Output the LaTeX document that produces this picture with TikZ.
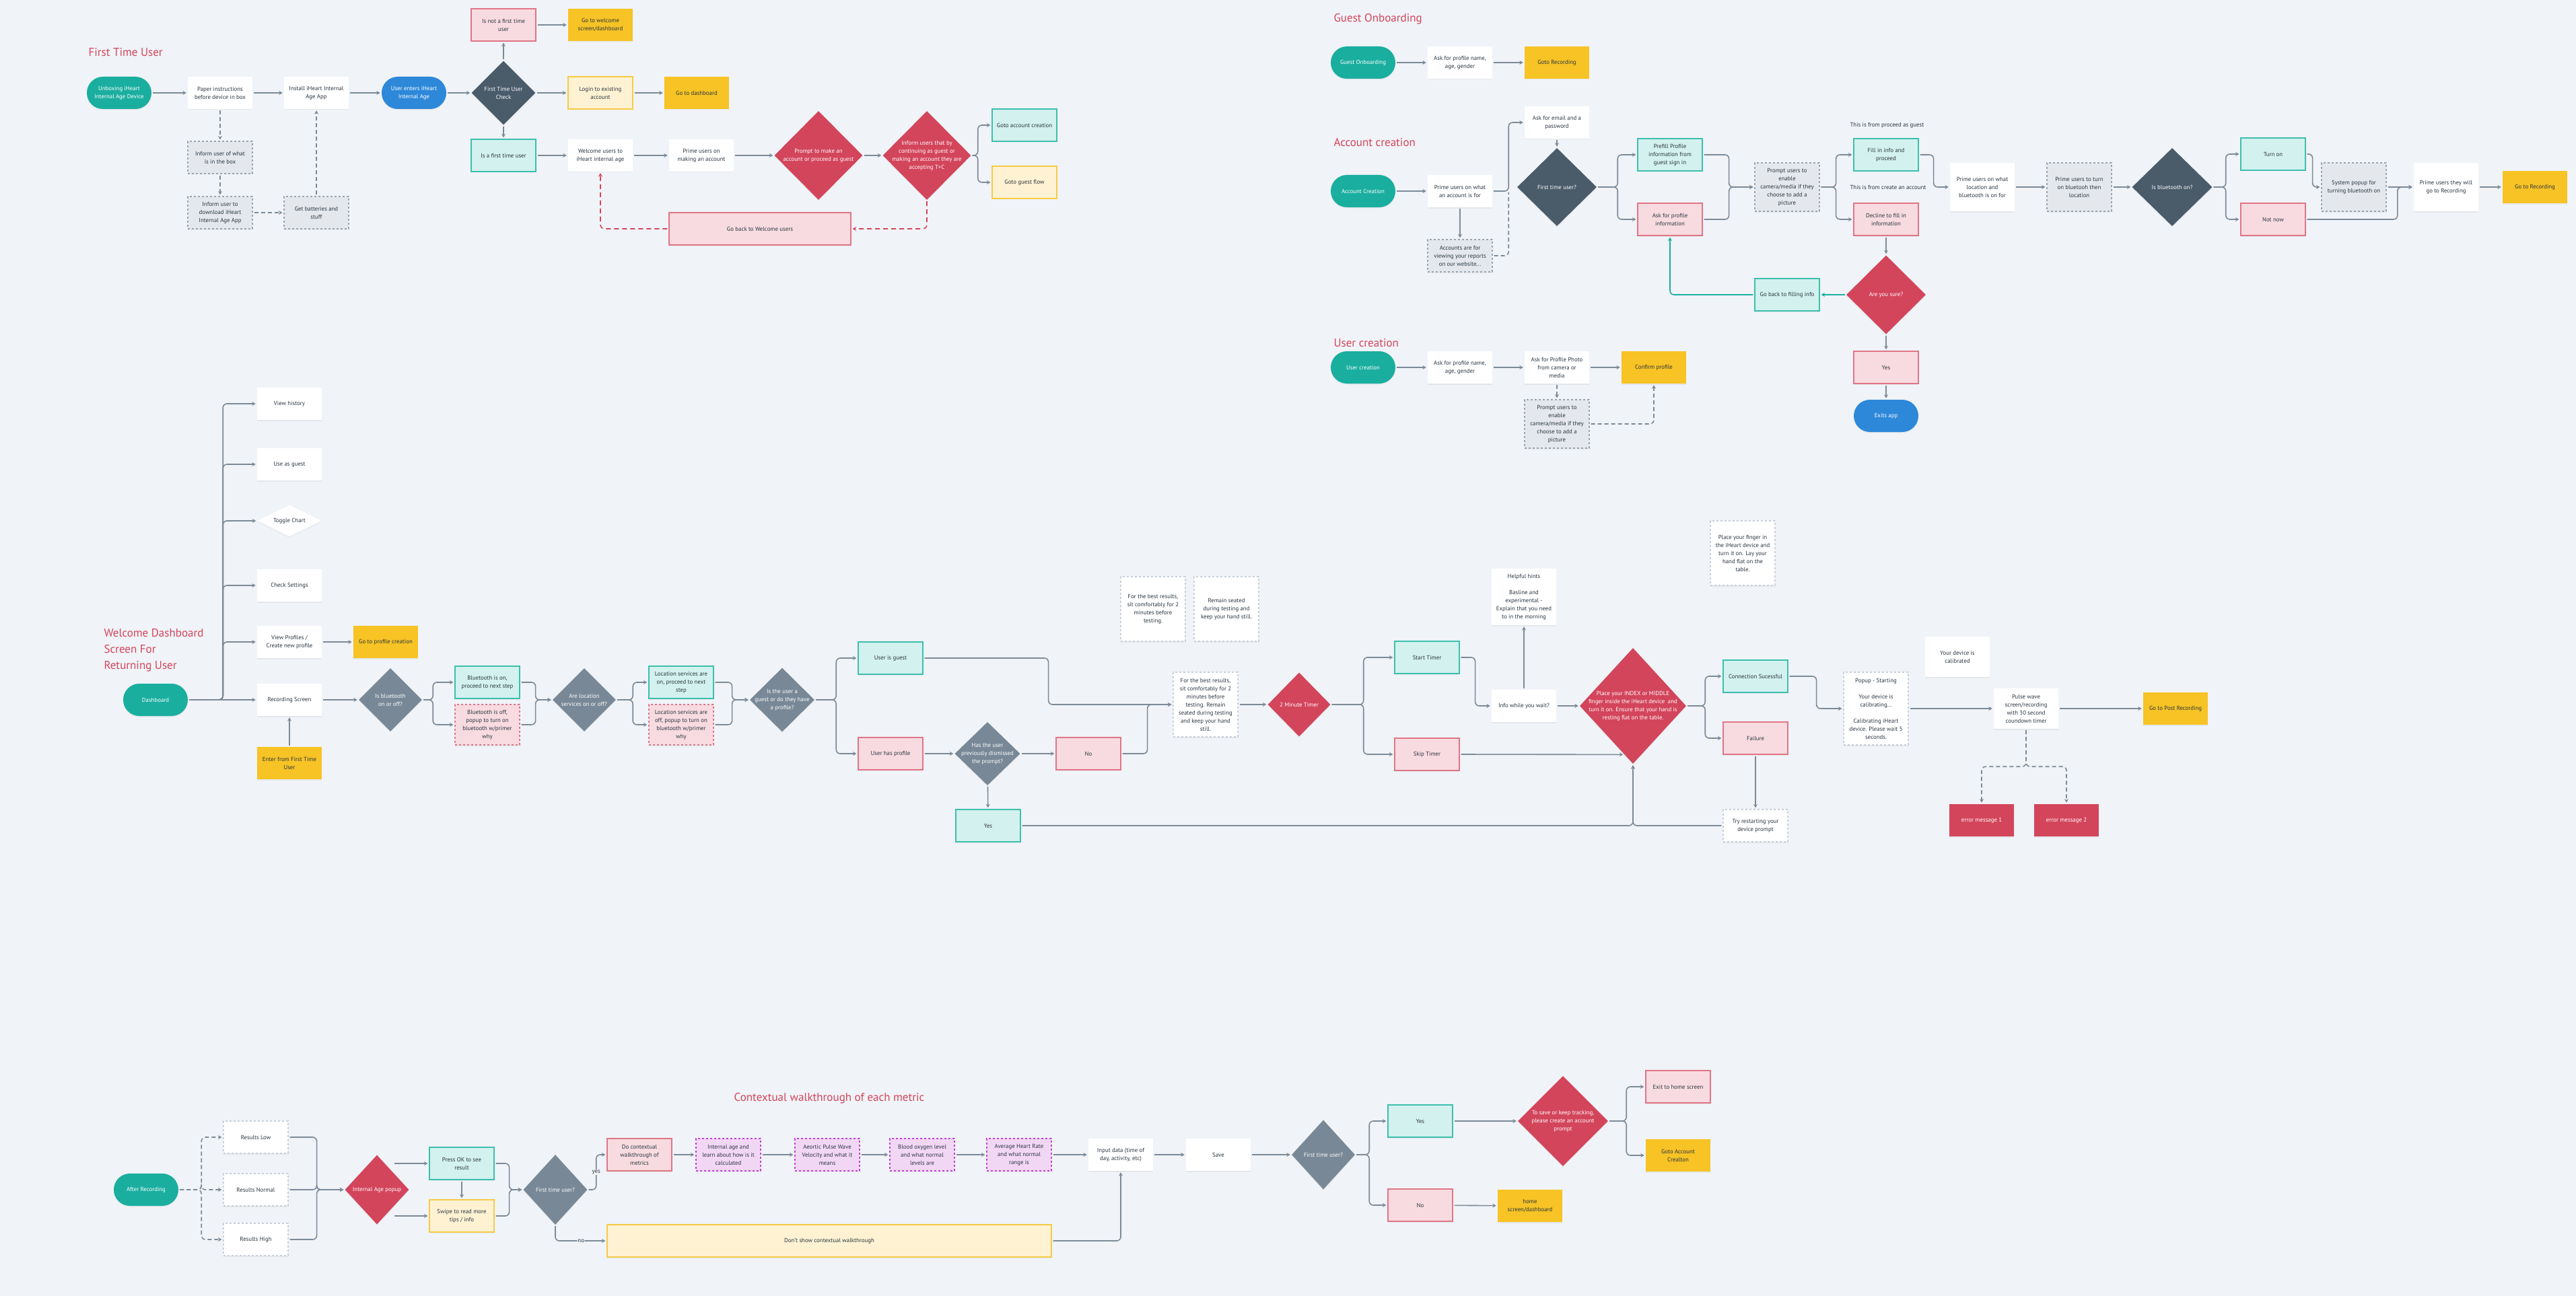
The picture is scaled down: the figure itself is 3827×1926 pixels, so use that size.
\documentclass[tikz,border=0pt]{standalone}
\usepackage{fontspec}
\setmainfont{PT Sans}
\usepackage{tikz}
\usetikzlibrary{arrows.meta,calc,shapes,shadows}

\definecolor{clrbg}{HTML}{F0F3F7}
\definecolor{clrink}{HTML}{2A3540}
\definecolor{clrwire}{HTML}{7B8A98}
\definecolor{clrteal}{HTML}{1AAE9F}
\definecolor{clrtealpale}{HTML}{D3F1EE}
\definecolor{clrtealline}{HTML}{3CBFAF}
\definecolor{clrblue}{HTML}{2D88D9}
\definecolor{clrslate}{HTML}{4A5B6A}
\definecolor{clrsteel}{HTML}{788896}
\definecolor{clrrose}{HTML}{D3455B}
\definecolor{clrpinkpale}{HTML}{F8DBE0}
\definecolor{clrpinkline}{HTML}{E07587}
\definecolor{clrsun}{HTML}{F7C325}
\definecolor{clrcream}{HTML}{FEF2D3}
\definecolor{clrcreamline}{HTML}{F6CB45}
\definecolor{clrgrey}{HTML}{E4E8EC}
\definecolor{clrgreyline}{HTML}{9AA5B1}
\definecolor{clrnote}{HTML}{C7D0DA}
\definecolor{clrlilac}{HTML}{F2D7F5}
\definecolor{clrlilacline}{HTML}{C43FD8}

\tikzset{
  txt/.style={font=\fontsize{8.8}{12}\selectfont, text=clrink, align=center},
  box/.style={txt, rectangle, fill=white, minimum width=96pt, minimum height=48pt, inner sep=2pt,
    drop shadow={opacity=0.10, shadow xshift=0pt, shadow yshift=-1.5pt}},
  tealbox/.style={box, fill=clrtealpale, draw=clrtealline, line width=1.2pt},
  pinkbox/.style={box, fill=clrpinkpale, draw=clrpinkline, line width=1.2pt},
  pinkdash/.style={pinkbox, dashed},
  sunbox/.style={box, fill=clrsun},
  creambox/.style={box, fill=clrcream, draw=clrcreamline, line width=1.2pt},
  greybox/.style={box, fill=clrgrey, draw=clrgreyline, dashed, line width=1.1pt},
  notebox/.style={box, draw=clrnote, dashed, line width=1.1pt},
  lilacbox/.style={box, fill=clrlilac, draw=clrlilacline, dashed, line width=1.2pt},
  alertbox/.style={box, fill=clrrose, text=white},
  pill/.style={box, rounded corners=24pt, fill=clrteal, text=white},
  bluepill/.style={pill, fill=clrblue},
  dia/.style={shape=diamond, inner sep=0pt, drop shadow={opacity=0.10, shadow xshift=0pt, shadow yshift=-1.5pt}},
  slatedia/.style={dia, fill=clrslate},
  steeldia/.style={dia, fill=clrsteel},
  rosedia/.style={dia, fill=clrrose},
  whitedia/.style={dia, fill=white},
  ontext/.style={txt, text=white},
  darktext/.style={txt},
  title/.style={font=\fontsize{17}{24}\selectfont, text=clrrose, align=left},
  link/.style={color=clrwire, line width=1.6pt, rounded corners=6pt, -{Stealth[length=5.5pt,width=6pt]}, shorten >=2pt, shorten <=2pt},
  dlink/.style={link, dash pattern=on 6pt off 4pt},
  backlink/.style={link, color=clrrose, dash pattern=on 7pt off 5pt},
  fixlink/.style={link, color=clrteal},
  tag/.style={txt, fill=clrbg, inner sep=1pt}
}

\begin{document}
\begin{tikzpicture}[x=1pt, y=-1pt]

    \fill[clrbg] (0,0) rectangle (3827,1926);
    \useasboundingbox (0,0) rectangle (3827,1926);

    % first time user
    \node[title, anchor=west] (fttitle) at (128,78) {First Time User};
    \node[pill] (unbox) at (177,138) {Unboxing iHeart\\Internal Age Device};
    \node[box] (paper) at (327,138) {Paper instructions\\before device in box};
    \node[box] (install) at (470,138) {Install iHeart Internal\\Age App};
    \node[bluepill] (enters) at (615,138) {User enters iHeart\\Internal Age};
    \node[slatedia, minimum width=95pt, minimum height=95pt, label={[ontext]center:{First Time User\\Check}}] (chk) at (748,138) {};
    \node[pinkbox] (notfirst) at (748,37) {Is not a first time\\user};
    \node[sunbox] (welcomego) at (892,37) {Go to welcome\\screen/dashboard};
    \node[creambox] (login) at (892,138) {Login to existing\\account};
    \node[sunbox] (dash) at (1035,138) {Go to dashboard};
    \node[tealbox] (isfirst) at (748,231) {Is a first time user};
    \node[box] (welcome) at (892,231) {Welcome users to\\iHeart internal age};
    \node[box] (primeacc) at (1042,231) {Prime users on\\making an account};
    \node[rosedia, minimum width=131pt, minimum height=132pt, label={[ontext]center:{Prompt to make an\\account or proceed as guest}}] (propose) at (1216,231) {};
    \node[rosedia, minimum width=131pt, minimum height=132pt, label={[ontext]center:{Inform users that by\\continuing as guest or\\making an account they are\\accepting T+C}}] (tnc) at (1377,231) {};
    \node[tealbox] (goacc) at (1522,186) {Goto account creation};
    \node[creambox] (goguest) at (1522,271) {Goto guest flow};
    \node[pinkbox, minimum width=270pt] (back) at (1129,340) {Go back to Welcome users};
    \node[greybox] (inbox) at (327,234) {Inform user of what\\is in the box};
    \node[greybox] (download) at (327,316) {Inform user to\\download iHeart\\Internal Age App};
    \node[greybox] (batt) at (470,316) {Get batteries and\\stuff};

    \draw[link] (unbox) -- (paper);
    \draw[link] (paper) -- (install);
    \draw[link] (install) -- (enters);
    \draw[link] (enters) -- (chk);
    \draw[link] (chk) -- (login);
    \draw[link] (login) -- (dash);
    \draw[link] (chk) -- (notfirst);
    \draw[link] (notfirst) -- (welcomego);
    \draw[link] (chk) -- (isfirst);
    \draw[link] (isfirst) -- (welcome);
    \draw[link] (welcome) -- (primeacc);
    \draw[link] (primeacc) -- (propose);
    \draw[link] (propose) -- (tnc);
    \draw[link] (tnc.east) -- ++(10,0) |- (goacc.west);
    \draw[link] (tnc.east) -- ++(10,0) |- (goguest.west);
    \draw[backlink] (tnc.south) |- (back.east);
    \draw[backlink] (back.west) -| (welcome.south);
    \draw[dlink] (paper) -- (inbox);
    \draw[dlink] (inbox) -- (download);
    \draw[dlink] (download) -- (batt);
    \draw[dlink] (batt) -- (install);

    % guest onboarding
    \node[title, anchor=west] (guesttitle) at (1978,28) {Guest Onboarding};
    \node[pill] (guest) at (2025,93) {Guest Onboarding};
    \node[box] (gask) at (2169,93) {Ask for profile name,\\age, gender};
    \node[sunbox] (grec) at (2313,93) {Goto Recording};
    \draw[link] (guest) -- (gask);
    \draw[link] (gask) -- (grec);

    % account creation
    \node[title, anchor=west] (acctitle) at (1978,212) {Account creation};
    \node[pill] (acc) at (2025,284) {Account Creation};
    \node[box] (accprime) at (2169,284) {Prime users on what\\an account is for};
    \node[greybox] (accweb) at (2169,380) {Accounts are for\\viewing your reports\\on our website...};
    \node[box] (email) at (2313,182) {Ask for email and a\\password};
    \node[slatedia, minimum width=118pt, minimum height=116pt, label={[ontext]center:First time user?}] (accfirst) at (2313,278) {};
    \node[tealbox] (prefill) at (2481,230) {Prefill Profile\\information from\\guest sign in};
    \node[pinkbox] (askprof) at (2481,326) {Ask for profile\\information};
    \node[greybox, minimum height=72pt] (camera) at (2655,278) {Prompt users to\\enable\\camera/media if they\\choose to add a\\picture};
    \node[txt, anchor=west] (fromguest) at (2745,186) {This is from proceed as guest};
    \node[txt, anchor=west] (fromcreate) at (2745,278) {This is from create an account};
    \node[tealbox] (fillin) at (2802,230) {Fill in info and\\proceed};
    \node[pinkbox] (decline) at (2802,326) {Decline to fill in\\information};
    \node[box, minimum height=72pt] (locprime) at (2945,278) {Prime users on what\\location and\\bluetooth is on for};
    \node[greybox, minimum height=72pt] (btprime) at (3089,278) {Prime users to turn\\on bluetooh then\\location};
    \node[slatedia, minimum width=119pt, minimum height=116pt, label={[ontext]center:Is bluetooth on?}] (btq) at (3227,278) {};
    \node[tealbox] (turnon) at (3377,229) {Turn on};
    \node[pinkbox] (notnow) at (3377,326) {Not now};
    \node[greybox, minimum height=72pt] (popup) at (3497,278) {System popup for\\turning bluetooth on};
    \node[box, minimum height=72pt] (primerec) at (3634,278) {Prime users they will\\go to Recording};
    \node[sunbox] (gorec) at (3766,278) {Go to Recording};
    \node[rosedia, minimum width=118pt, minimum height=117pt, label={[ontext]center:Are you sure?}] (sure) at (2802,438) {};
    \node[tealbox] (goback) at (2655,438) {Go back to filling info};
    \node[pinkbox] (yes) at (2802,546) {Yes};
    \node[bluepill] (exits) at (2802,618) {Exits app};

    \draw[link] (acc) -- (accprime);
    \draw[link] (accprime.east) -- ++(24,0) |- (email.west);
    \draw[link] (accprime) -- (accweb);
    \draw[dlink, -] (accweb.east) -| ($(accprime.east)+(24,0)$);
    \draw[link] (email) -- (accfirst);
    \draw[link] (accfirst.east) -- ++(31,0) |- (prefill.west);
    \draw[link] (accfirst.east) -- ++(31,0) |- (askprof.west);
    \draw[link] (prefill.east) -- ++(39,0) |- (camera.west);
    \draw[link] (askprof.east) -- ++(39,0) |- (camera.west);
    \draw[link] (camera.east) -- ++(24,0) |- (fillin.west);
    \draw[link] (camera.east) -- ++(24,0) |- (decline.west);
    \draw[link] (fillin.east) -- ++(22,0) |- (locprime.west);
    \draw[link] (locprime) -- (btprime);
    \draw[link] (btprime) -- (btq);
    \draw[link] (btq.east) -- ++(20,0) |- (turnon.west);
    \draw[link] (btq.east) -- ++(20,0) |- (notnow.west);
    \draw[link] (turnon.east) -- ++(10,0) |- (popup.west);
    \draw[link] (popup) -- (primerec);
    \draw[link] (notnow.east) -| ($(primerec.west)+(-24,0)$) -- (primerec.west);
    \draw[link] (primerec) -- (gorec);
    \draw[link] (decline) -- (sure);
    \draw[link] (sure) -- (yes);
    \draw[link] (yes) -- (exits);
    \draw[fixlink] (sure) -- (goback);
    \draw[fixlink] (goback.west) -| (askprof.south);

    % user creation
    \node[title, anchor=west] (usertitle) at (1978,510) {User creation};
    \node[pill] (ucreate) at (2025,546) {User creation};
    \node[box] (uask) at (2169,546) {Ask for profile name,\\age, gender};
    \node[box] (uphoto) at (2313,546) {Ask for Profile Photo\\from camera or\\media};
    \node[sunbox] (uconfirm) at (2457,546) {Confirm profile};
    \node[greybox, minimum height=72pt] (ucamera) at (2313,630) {Prompt users to\\enable\\camera/media if they\\choose to add a\\picture};
    \draw[link] (ucreate) -- (uask);
    \draw[link] (uask) -- (uphoto);
    \draw[link] (uphoto) -- (uconfirm);
    \draw[dlink] (uphoto) -- (ucamera);
    \draw[dlink] (ucamera.east) -| (uconfirm.south);

    % welcome dashboard
    \node[title, anchor=west] (dashtitle) at (151,966) {Welcome Dashboard\\Screen For\\Returning User};
    \node[pill] (board) at (231,1040) {Dashboard};
    \node[box] (history) at (430,600) {View history};
    \node[box] (asguest) at (430,690) {Use as guest};
    \node[whitedia, minimum width=95pt, minimum height=47pt, label={[darktext]center:Toggle Chart}] (toggle) at (430,774) {};
    \node[box] (settings) at (430,870) {Check Settings};
    \node[box] (profiles) at (430,954) {View Profiles /\\Create new profile};
    \node[sunbox] (profcreate) at (573,954) {Go to profile creation};
    \node[box] (recscreen) at (430,1040) {Recording Screen};
    \node[sunbox] (fromfirst) at (430,1134) {Enter from First Time\\User};
    \node[steeldia, minimum width=94pt, minimum height=94pt, label={[ontext]center:{Is bluetooth\\on or off?}}] (btonoff) at (580,1040) {};
    \node[tealbox] (bton) at (724,1014) {Bluetooth is on,\\proceed to next step};
    \node[pinkdash, minimum height=60pt] (btoff) at (724,1077) {Bluetooth is off,\\popup to turn on\\bluetooth w/primer\\why};
    \node[steeldia, minimum width=94pt, minimum height=94pt, label={[ontext]center:{Are location\\services on or off?}}] (locq) at (868,1040) {};
    \node[tealbox] (locon) at (1012,1014) {Location services are\\on, proceed to next\\step};
    \node[pinkdash, minimum height=60pt] (locoff) at (1012,1077) {Location services are\\off, popup to turn on\\bluetooth w/primer\\why};
    \node[steeldia, minimum width=96pt, minimum height=95pt, label={[ontext]center:{Is the user a\\guest or do they have\\a profile?}}] (guestq) at (1162,1040) {};
    \node[tealbox] (isguest) at (1323,978) {User is guest};
    \node[pinkbox] (hasprof) at (1323,1120) {User has profile};
    \node[steeldia, minimum width=97pt, minimum height=94pt, label={[ontext]center:{Has the user\\previously dismissed\\the prompt?}}] (dismissed) at (1467,1120) {};
    \node[pinkbox] (no) at (1617,1120) {No};
    \node[tealbox] (yes2) at (1468,1227) {Yes};
    \node[notebox, minimum height=96pt] (tipsit) at (1713,905) {For the best results,\\sit comfortably for 2\\minutes before\\testing.};
    \node[notebox, minimum height=96pt] (tipseat) at (1822,905) {Remain seated\\during testing and\\keep your hand still.};
    \node[notebox, minimum height=96pt] (tipboth) at (1791,1047) {For the best results,\\sit comfortably for 2\\minutes before\\testing. Remain\\seated during testing\\and keep your hand\\still.};
    \node[rosedia, minimum width=93pt, minimum height=95pt, label={[ontext]center:2 Minute Timer}] (timer) at (1930,1047) {};
    \node[tealbox] (start) at (2120,977) {Start Timer};
    \node[pinkbox] (skip) at (2120,1121) {Skip Timer};
    \node[box] (wait) at (2264,1049) {Info while you wait?};
    \node[box, minimum height=84pt] (hints) at (2264,887) {Helpful hints\\[12pt]Basline and\\experimental -\\Explain that you need\\to in the morning};
    \node[rosedia, minimum width=158pt, minimum height=172pt, label={[ontext]center:{Place your INDEX or MIDDLE\\finger inside the iHeart device \ and\\turn it on. Ensure that your hand is\\resting flat on the table.}}] (finger) at (2426,1049) {};
    \node[notebox, minimum height=96pt] (fingernote) at (2589,822) {Place your finger in\\the iHeart device and\\turn it on. Lay your\\hand flat on the\\table.};
    \node[tealbox] (connok) at (2608,1005) {Connection Sucessful};
    \node[pinkbox] (fail) at (2608,1097) {Failure};
    \node[notebox] (restart) at (2608,1227) {Try restarting your\\device prompt};
    \node[notebox, minimum height=108pt] (calib) at (2787,1053) {Popup - Starting\\[12pt]Your device is\\calibrating...\\[12pt]Calibrating iHeart\\device. Please wait 5\\seconds.};
    \node[box, minimum height=60pt] (calibrated) at (2908,976) {Your device is\\calibrated};
    \node[box, minimum height=60pt] (pulse) at (3010,1053) {Pulse wave\\screen/recording\\with 30 second\\coundown timer};
    \node[sunbox] (postrec) at (3232,1053) {Go to Post Recording};
    \node[alertbox] (err1) at (2944,1219) {error message 1};
    \node[alertbox] (err2) at (3070,1219) {error message 2};

    \draw[link] (board) -- (recscreen);
    \foreach \n in {history,asguest,toggle,settings,profiles}
        \draw[link] (board.east) -- ++(52,0) |- (\n.west);
    \draw[link] (profiles) -- (profcreate);
    \draw[link] (fromfirst) -- (recscreen);
    \draw[link] (recscreen) -- (btonoff);
    \draw[link] (btonoff.east) -- ++(16,0) |- (bton.west);
    \draw[link] (btonoff.east) -- ++(16,0) |- (btoff.west);
    \draw[link] (bton.east) -- ++(23,0) |- (locq.west);
    \draw[link] (btoff.east) -- ++(23,0) |- (locq.west);
    \draw[link] (locq.east) -- ++(25,0) |- (locon.west);
    \draw[link] (locq.east) -- ++(25,0) |- (locoff.west);
    \draw[link] (locon.east) -- ++(27,0) |- (guestq.west);
    \draw[link] (locoff.east) -- ++(27,0) |- (guestq.west);
    \draw[link] (guestq.east) -- ++(32,0) |- (isguest.west);
    \draw[link] (guestq.east) -- ++(32,0) |- (hasprof.west);
    \draw[link] (hasprof) -- (dismissed);
    \draw[link] (dismissed) -- (no);
    \draw[link] (dismissed) -- (yes2);
    \draw[link] (isguest.east) -- ++(186,0) |- (tipboth.west);
    \draw[link] (no.east) -- ++(39,0) |- (tipboth.west);
    \draw[link] (tipboth) -- (timer);
    \draw[link] (timer.east) -- ++(49,0) |- (start.west);
    \draw[link] (timer.east) -- ++(49,0) |- (skip.west);
    \draw[link] (start.east) -- ++(23,0) |- (wait.west);
    \draw[link] (wait) -- (hints);
    \draw[link] (wait) -- (finger);
    \draw[link] (skip.east) -- ($(finger.south)!0.16!(finger.west)$);
    \draw[link] (finger.east) -- ++(28,0) |- (connok.west);
    \draw[link] (finger.east) -- ++(28,0) |- (fail.west);
    \draw[link] (connok.east) -- ++(42,0) |- (calib.west);
    \draw[link] (fail) -- (restart);
    \draw[link] (restart.west) -| (finger.south);
    \draw[link] (yes2.east) -| (finger.south);
    \draw[link] (calib) -- (pulse);
    \draw[link] (pulse) -- (postrec);
    \draw[dlink] (pulse.south) -- ++(0,56) -| (err1.north);
    \draw[dlink] (pulse.south) -- ++(0,56) -| (err2.north);

    % contextual walkthrough
    \node[title, anchor=center] (walktitle) at (1232,1632) {Contextual walkthrough of each metric};
    \node[pill] (after) at (217,1768) {After Recording};
    \node[notebox] (low) at (380,1690) {Results Low};
    \node[notebox] (normal) at (380,1768) {Results Normal};
    \node[notebox] (high) at (380,1842) {Results High};
    \node[rosedia, minimum width=95pt, minimum height=103pt, label={[ontext]center:Internal Age popup}] (popupage) at (560,1768) {};
    \node[tealbox] (pressok) at (686,1729) {Press OK to see\\result};
    \node[creambox] (swipe) at (686,1807) {Swipe to read more\\tips / info};
    \node[steeldia, minimum width=95pt, minimum height=104pt, label={[ontext]center:First time user?}] (firstq) at (825,1768) {};
    \node[pinkbox] (walk) at (950,1716) {Do contextual\\walkthrough of\\metrics};
    \node[lilacbox] (m1) at (1082,1716) {Internal age and\\learn about how is it\\calculated};
    \node[lilacbox] (m2) at (1229,1716) {Aeortic Pulse Wave\\Velocity and what it\\means};
    \node[lilacbox] (m3) at (1370,1716) {Blood oxygen level\\and what normal\\levels are};
    \node[lilacbox] (m4) at (1514,1716) {Average Heart Rate\\and what normal\\range is};
    \node[box] (input) at (1665,1716) {Input data (time of\\day, activity, etc)};
    \node[box] (save) at (1810,1716) {Save};
    \node[creambox, minimum width=660pt] (noshow) at (1232,1844) {Don't show contextual walkthrough};
    \node[steeldia, minimum width=94pt, minimum height=103pt, label={[ontext]center:First time user?}] (lastq) at (1966,1716) {};
    \node[tealbox] (lyes) at (2110,1666) {Yes};
    \node[pinkbox] (lno) at (2110,1791) {No};
    \node[rosedia, minimum width=134pt, minimum height=134pt, label={[ontext]center:{To save or keep tracking,\\please create an account\\prompt}}] (savepr) at (2322,1666) {};
    \node[pinkbox] (exithome) at (2493,1615) {Exit to home screen};
    \node[sunbox] (gotoacc) at (2493,1717) {Goto Account\\Crealton};
    \node[sunbox] (homedash) at (2273,1792) {home\\screen/dashboard};

    \draw[dlink] (after.east) -- ++(34,0) |- (low.west);
    \draw[dlink] (after.east) -- ++(34,0) |- (normal.west);
    \draw[dlink] (after.east) -- ++(34,0) |- (high.west);
    \draw[link] (low.east) -- ++(42,0) |- (popupage.west);
    \draw[link] (normal.east) -- ++(42,0) |- (popupage.west);
    \draw[link] (high.east) -- ++(42,0) |- (popupage.west);
    \draw[link] (popupage.north east |- pressok.west) -- (pressok.west);
    \draw[link] (popupage.south east |- swipe.west) -- (swipe.west);
    \draw[link] (pressok) -- (swipe);
    \draw[link] (pressok.east) -- ++(22,0) |- (firstq.west);
    \draw[link] (swipe.east) -- ++(22,0) |- (firstq.west);
    \draw[link] (firstq.east) -- ++(13,0) |- node[pos=0.25, tag] {yes} (walk.west);
    \draw[link] (firstq.south) |- node[pos=0.75, tag] {no} (noshow.west);
    \draw[link] (walk) -- (m1);
    \draw[link] (m1) -- (m2);
    \draw[link] (m2) -- (m3);
    \draw[link] (m3) -- (m4);
    \draw[link] (m4) -- (input);
    \draw[link] (input) -- (save);
    \draw[link] (save) -- (lastq);
    \draw[link] (noshow.east) -| (input.south);
    \draw[link] (lastq.east) -- ++(21,0) |- (lyes.west);
    \draw[link] (lastq.east) -- ++(21,0) |- (lno.west);
    \draw[link] (lyes) -- (savepr);
    \draw[link] (savepr.east) -- ++(27,0) |- (exithome.west);
    \draw[link] (savepr.east) -- ++(27,0) |- (gotoacc.west);
    \draw[link] (lno) -- (homedash);

\end{tikzpicture}
\end{document}
